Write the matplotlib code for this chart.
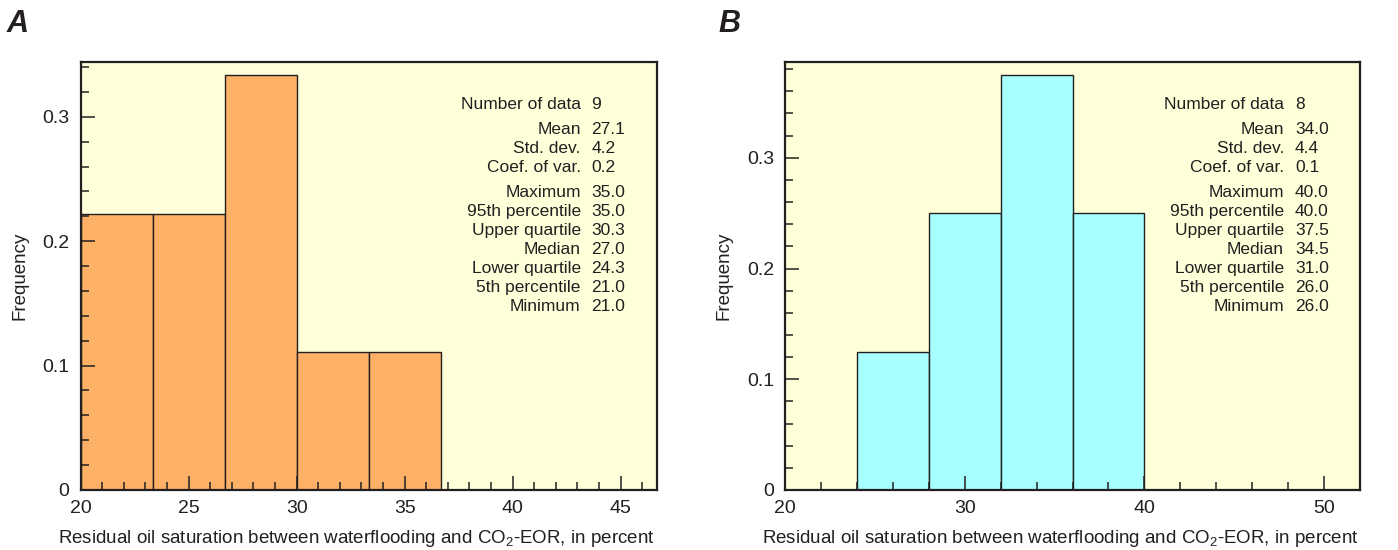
import numpy as np
import matplotlib
matplotlib.use("Agg")
import matplotlib.pyplot as plt
from matplotlib.ticker import MultipleLocator

plt.rcParams['font.family'] = ['Liberation Sans', 'DejaVu Sans']
plt.rcParams['mathtext.fontset'] = 'custom'
plt.rcParams['mathtext.rm'] = 'Liberation Sans'
plt.rcParams['mathtext.default'] = 'regular'

# ---------------- data ----------------
a_bin_edges = [20.0, 23.333, 26.667, 30.0, 33.333, 36.667]
a_counts = [2, 2, 3, 1, 1]
a_n = 9
a_xlim = (20.0, 46.667)

b_bin_edges = [24.0, 28.0, 32.0, 36.0, 40.0]
b_counts = [1, 2, 3, 2]
b_n = 8
b_xlim = (20.0, 52.0)

stat_labels = ["Number of data", "Mean", "Std. dev.", "Coef. of var.",
               "Maximum", "95th percentile", "Upper quartile", "Median",
               "Lower quartile", "5th percentile", "Minimum"]
a_stat_values = ["9", "27.1", "4.2", "0.2", "35.0", "35.0", "30.3", "27.0", "24.3", "21.0", "21.0"]
b_stat_values = ["8", "34.0", "4.4", "0.1", "40.0", "40.0", "37.5", "34.5", "31.0", "26.0", "26.0"]

xlabel = "Residual oil saturation between waterflooding and CO$_2$-EOR, in percent"
ylabel = "Frequency"

# ---------------- style ----------------
W, H = 1398, 550
BG = "#FFFFDA"
ORANGE = "#FDB166"
CYAN = "#A8FFFF"
INK = "#231F20"

fig = plt.figure(figsize=(W / 100, H / 100), dpi=100)


def px_axes(l, r, t, b):
    return [l / W, 1 - b / H, (r - l) / W, (b - t) / H]


def panel(rect, edges, counts, n, xlim, ylim, xmaj, xmin, color, values, letter, letter_x):
    ax = fig.add_axes(rect)
    ax.set_facecolor(BG)
    edges = np.asarray(edges)
    widths = np.diff(edges)
    freqs = np.asarray(counts) / n
    ax.bar(edges[:-1], freqs, width=widths, align='edge', color=color,
           edgecolor=INK, linewidth=1.0, zorder=1)
    ax.set_xlim(*xlim)
    ax.set_ylim(*ylim)
    ax.xaxis.set_major_locator(MultipleLocator(xmaj))
    ax.xaxis.set_minor_locator(MultipleLocator(xmin))
    ax.yaxis.set_major_locator(MultipleLocator(0.1))
    ax.yaxis.set_minor_locator(MultipleLocator(0.02))
    ax.tick_params(which='both', direction='in', top=False, right=False,
                   color=INK, width=1.1, labelsize=14, labelcolor=INK)
    ax.tick_params(which='major', length=10)
    ax.tick_params(which='minor', length=5.5)
    ax.tick_params(axis='y', which='major', pad=8)
    ax.tick_params(axis='x', which='major', pad=7)
    ax.yaxis.set_major_formatter(matplotlib.ticker.FuncFormatter(
        lambda v, p: "0" if abs(v) < 1e-9 else f"{v:.1f}"))
    ax.set_axisbelow(False)
    ax.xaxis.set_zorder(4)
    ax.yaxis.set_zorder(4)
    for s in ax.spines.values():
        s.set_linewidth(1.6)
        s.set_color(INK)
        s.set_zorder(5)
    ax.set_xlabel(xlabel, fontsize=13.5, color=INK, labelpad=8)
    ax.xaxis.label.set_x(0.5 - 12 / (rect[2] * W))
    ax.set_ylabel(ylabel, fontsize=13.5, color=INK, labelpad=10)

    # stats text block
    axh = rect[3] * H
    y0 = 0.901
    step = 19 / axh
    gap = 25 / axh
    ys = []
    y = y0
    for i in range(len(stat_labels)):
        if i == 0:
            y = y0
        elif i in (1, 4):
            y -= gap
        else:
            y -= step
        ys.append(y)
    for lab, val, yy in zip(stat_labels, values, ys):
        ax.text(0.868, yy, lab, transform=ax.transAxes, ha='right', va='center',
                fontsize=12.5, color=INK, zorder=6)
        ax.text(0.887, yy, val, transform=ax.transAxes, ha='left', va='center',
                fontsize=12.5, color=INK, zorder=6)

    fig.text(letter_x / W, 1 - 32 / H, letter, fontsize=22, fontweight='bold',
             fontstyle='italic', color=INK, ha='left', va='baseline')
    return ax


axA = panel(px_axes(80.7, 656.7, 62, 490), a_bin_edges, a_counts, a_n, a_xlim,
            (0, 0.344), 5, 1, ORANGE, a_stat_values, "A", 7)
axB = panel(px_axes(785, 1360, 62, 490), b_bin_edges, b_counts, b_n, b_xlim,
            (0, 0.3865), 10, 2, CYAN, b_stat_values, "B", 718)

fig.savefig("out.png", dpi=100)
